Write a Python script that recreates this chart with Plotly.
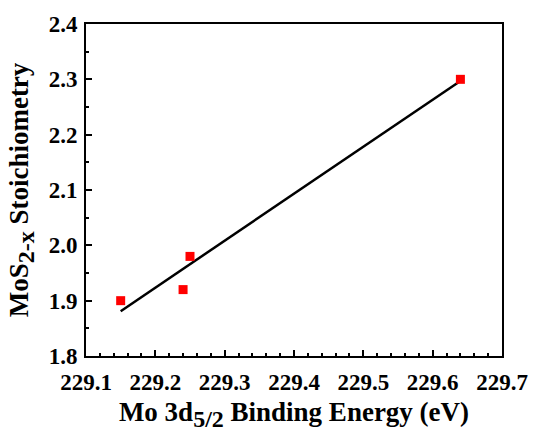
import plotly.graph_objects as go

# Data
binding_energy = [229.15, 229.24, 229.25, 229.64]
stoichiometry = [1.90, 1.92, 1.98, 2.30]

fit_x = [229.15, 229.64]
fit_y = [1.881, 2.297]

x_ticks = [229.1, 229.2, 229.3, 229.4, 229.5, 229.6, 229.7]
y_ticks = [1.8, 1.9, 2.0, 2.1, 2.2, 2.3, 2.4]

FONT = "Liberation Serif"

fig = go.Figure()
fig.add_trace(go.Scatter(
    x=fit_x, y=fit_y, mode="lines",
    line=dict(color="black", width=2.5),
    showlegend=False, hoverinfo="skip",
))
fig.add_trace(go.Scatter(
    x=binding_energy, y=stoichiometry, mode="markers",
    marker=dict(symbol="square", size=9, color="#ff0000", line=dict(width=0)),
    showlegend=False,
))

axis_common = dict(
    showgrid=False, zeroline=False,
    showline=True, linecolor="black", linewidth=2, mirror=True,
    ticks="inside", ticklen=6, tickwidth=2, tickcolor="black",
    tickfont=dict(family=FONT, size=23, color="black", weight="bold"),
)

fig.update_xaxes(
    range=[229.1, 229.7], tickvals=x_ticks,
    ticktext=[f"{v:.1f}" for v in x_ticks],
    ticklabelstandoff=4,
    minor=dict(dtick=0.02, tick0=229.1, ticks="inside", ticklen=3, tickwidth=2, tickcolor="black"),
    title=dict(text="Mo 3d<sub><span style='font-size:24px'>5/2</span></sub> Binding Energy (eV)",
               font=dict(family=FONT, size=27, color="black", weight="bold"),
               standoff=9),
    **axis_common,
)
fig.update_yaxes(
    range=[1.8, 2.4], tickvals=y_ticks,
    ticktext=[f"{v:.1f}" for v in y_ticks],
    ticklabelstandoff=2,
    minor=dict(dtick=0.05, tick0=1.8, ticks="inside", ticklen=3, tickwidth=2, tickcolor="black"),
    title=dict(text="MoS<sub><span style='font-size:24px'>2-x</span></sub> Stoichiometry",
               font=dict(family=FONT, size=27, color="black", weight="bold"),
               standoff=12),
    **axis_common,
)

fig.update_layout(
    width=540, height=434,
    margin=dict(l=86, r=27, t=20, b=72),
    paper_bgcolor="white", plot_bgcolor="white",
)

fig.write_html("out.html")
